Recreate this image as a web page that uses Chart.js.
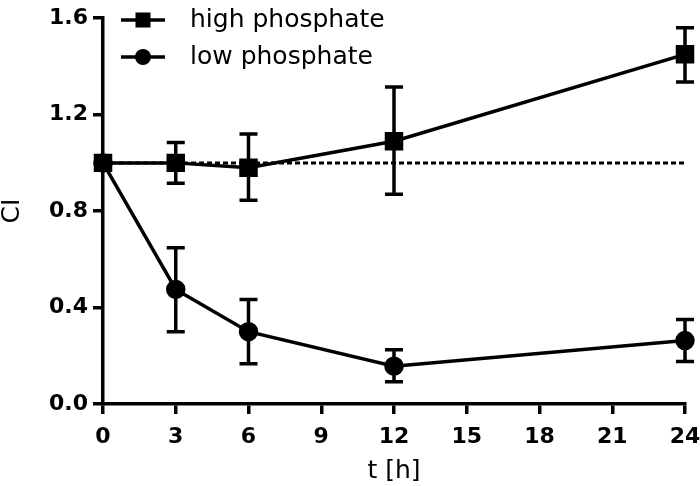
<!DOCTYPE html>
<html>
<head>
<meta charset="utf-8">
<script src="https://cdn.jsdelivr.net/npm/chart.js@4"></script>
<style>
  html, body { margin: 0; padding: 0; background: #fff; }
  #wrap { width: 700px; height: 486px; position: relative; }
</style>
</head>
<body>
<div id="wrap"><canvas id="chart"></canvas></div>
<script>
// ----- data -----
const timeH = [0, 3, 6, 12, 24];

const highMean  = [1.0, 1.0, 0.98, 1.09, 1.45];
const highUpper = [1.0, 1.085, 1.12, 1.315, 1.56];
const highLower = [1.0, 0.915, 0.845, 0.87, 1.335];

const lowMean  = [1.0, 0.475, 0.30, 0.157, 0.263];
const lowUpper = [1.0, 0.648, 0.433, 0.225, 0.35];
const lowLower = [1.0, 0.30, 0.167, 0.092, 0.176];

// dotted reference line at CI = 1
const refX = [0, 24];
const refY = [1, 1];

const seriesNames = ['high phosphate', 'low phosphate'];

function toPoints(xs, ys) {
    return xs.map((x, i) => ({ x: x, y: ys[i] }));
}

// error bars drawn through the scales
const errorBars = {
    id: 'errorBars',
    afterDatasetsDraw(chart) {
        const ctx = chart.ctx;
        const xs = chart.scales.x;
        const ys = chart.scales.y;
        const sets = [[highUpper, highLower], [lowUpper, lowLower]];
        ctx.save();
        ctx.strokeStyle = '#000';
        ctx.lineWidth = 3.5;
        sets.forEach(([up, lo]) => {
            timeH.forEach((t, i) => {
                if (up[i] === lo[i]) return;
                const px = xs.getPixelForValue(t);
                const pTop = ys.getPixelForValue(up[i]);
                const pBot = ys.getPixelForValue(lo[i]);
                ctx.beginPath();
                ctx.moveTo(px, pTop);
                ctx.lineTo(px, pBot);
                ctx.moveTo(px - 9, pTop);
                ctx.lineTo(px + 9, pTop);
                ctx.moveTo(px - 9, pBot);
                ctx.lineTo(px + 9, pBot);
                ctx.stroke();
            });
        });
        ctx.restore();
    }
};

// legend: line with marker, like the original
const lineLegend = {
    id: 'lineLegend',
    afterDraw(chart) {
        const ctx = chart.ctx;
        const rows = [
            { y: 20, style: 'rect', name: seriesNames[0] },
            { y: 57, style: 'circle', name: seriesNames[1] }
        ];
        ctx.save();
        ctx.strokeStyle = '#000';
        ctx.fillStyle = '#000';
        ctx.lineWidth = 3.5;
        rows.forEach(r => {
            ctx.beginPath();
            ctx.moveTo(121, r.y);
            ctx.lineTo(165, r.y);
            ctx.stroke();
            if (r.style === 'rect') {
                ctx.fillRect(143 - 7.5, r.y - 7.5, 15, 15);
            } else {
                ctx.beginPath();
                ctx.arc(143, r.y, 8, 0, Math.PI * 2);
                ctx.fill();
            }
            ctx.font = '25px "DejaVu Sans"';
            ctx.textBaseline = 'middle';
            ctx.textAlign = 'left';
            ctx.fillText(r.name, 190, r.y);
        });
        ctx.restore();
    }
};

Chart.defaults.font.family = '"DejaVu Sans", sans-serif';
Chart.defaults.color = '#000';

const ctx = document.getElementById('chart').getContext('2d');
const chart = new Chart(ctx, {
    type: 'line',
    data: {
        datasets: [
            {
                label: seriesNames[0],
                data: toPoints(timeH, highMean),
                borderColor: '#000',
                backgroundColor: '#000',
                borderWidth: 3.5,
                pointStyle: 'rect',
                pointRadius: 10.6,
                pointHoverRadius: 10.6,
                tension: 0,
                clip: false,
                order: 1
            },
            {
                label: seriesNames[1],
                data: toPoints(timeH, lowMean),
                borderColor: '#000',
                backgroundColor: '#000',
                borderWidth: 3.5,
                pointStyle: 'circle',
                pointRadius: 8,
                pointHoverRadius: 8,
                tension: 0,
                clip: false,
                order: 2
            },
            {
                label: 'ref',
                data: toPoints(refX, refY),
                borderColor: '#000',
                borderWidth: 3,
                borderDash: [5, 3],
                pointRadius: 0,
                clip: false,
                order: 3
            }
        ]
    },
    options: {
        responsive: true,
        maintainAspectRatio: false,
        animation: false,
        layout: { padding: { top: 10, right: 15, left: 0, bottom: 0 } },
        plugins: {
            legend: { display: false },
            tooltip: { enabled: false }
        },
        scales: {
            x: {
                type: 'linear',
                min: 0,
                max: 24,
                afterFit(scale) {
                    scale.height = 82;
                    scale.paddingLeft = 0;
                    scale.paddingRight = 0;
                },
                border: { display: true, color: '#000', width: 3.5 },
                grid: {
                    drawOnChartArea: false,
                    drawTicks: true,
                    tickLength: 10,
                    lineWidth: 3.5,
                    color: '#000'
                },
                ticks: {
                    stepSize: 3,
                    padding: 10,
                    maxRotation: 0,
                    font: { size: 22, weight: 'bold' }
                },
                title: {
                    display: true,
                    text: 't [h]',
                    font: { size: 25 },
                    padding: { top: 0, bottom: 0 }
                }
            },
            y: {
                min: 0,
                max: 1.6,
                afterFit(scale) { scale.width = 103; },
                border: { display: true, color: '#000', width: 3.5 },
                grid: {
                    drawOnChartArea: false,
                    drawTicks: true,
                    tickLength: 10,
                    lineWidth: 3.5,
                    color: '#000'
                },
                ticks: {
                    stepSize: 0.4,
                    padding: 5,
                    font: { size: 22, weight: 'bold' },
                    callback: v => v.toFixed(1)
                },
                title: {
                    display: true,
                    text: 'CI',
                    font: { size: 25, lineHeight: 1 },
                    padding: { top: 0, bottom: 0 }
                }
            }
        }
    },
    plugins: [errorBars, lineLegend]
});
</script>
</body>
</html>
